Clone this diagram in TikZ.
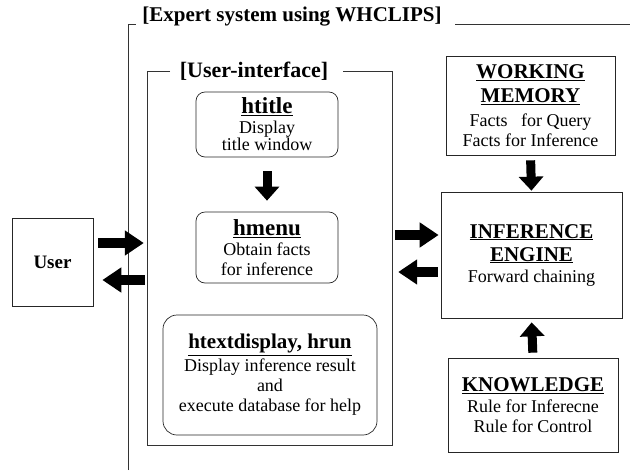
\documentclass[tikz,border=0pt]{standalone}
\usepackage{fontspec}
\setmainfont{Liberation Serif}
\usetikzlibrary{arrows.meta}
\newcommand{\hd}[1]{{\fontsize{21}{24}\selectfont\bfseries\underline{#1}}}
\newcommand{\hdb}[1]{{\fontsize{23}{26}\selectfont\bfseries\underline{#1}}}
\tikzset{
  box/.style={draw=black!85, line width=0.7pt, align=center, inner sep=0pt,
    font=\fontsize{18}{20}\selectfont},
  rbox/.style={box, rounded corners=9pt},
  ttl/.style={font=\fontsize{21}{24}\selectfont\bfseries, inner sep=0pt, anchor=base},
  frm/.style={draw=black!80, line width=0.7pt},
  blk/.style={line width=10pt, -{Triangle[length=19pt,width=24pt]}},
  vblk/.style={line width=9pt, -{Triangle[length=14pt,width=24pt]}}
}
\begin{document}
\begin{tikzpicture}[x=1pt,y=-1pt]
\useasboundingbox (0,0) rectangle (630,475);
% outer frame
\node[ttl] (extitle) at (292,21) {[Expert system using WHCLIPS]};
\draw[frm] (128,470) -- (128,24) -- (136,24);
\draw[frm] (455,24) -- (630,24);
% user-interface frame
\node[ttl, font=\fontsize{22}{24}\selectfont\bfseries] (uititle) at (254,77) {[User-interface]};
\draw[frm] (170,71) -- (147,71) -- (147,445) -- (392,445) -- (392,71) -- (343,71);
\node[inner sep=0pt, minimum width=245pt, minimum height=374pt] (ui) at (269.5,258) {};
% boxes
\node[box, minimum width=81pt, minimum height=88pt] (user) at (52.5,262)
  {{\fontsize{19}{22}\selectfont\bfseries User}};
\node[rbox, minimum width=142pt, minimum height=65pt] (htitle) at (267,124.5)
  {\hdb{htitle}\\[0pt]Display\\[-3pt]title window};
\node[rbox, minimum width=142pt, minimum height=71pt] (hmenu) at (267,247.5)
  {\hdb{hmenu}\\[0pt]Obtain facts\\for inference};
\node[rbox, rounded corners=14pt, minimum width=214pt, minimum height=120pt] (htext) at (270,375)
  {\hd{htextdisplay, hrun}\\[3pt]Display inference result\\and\\execute database for help};
\node[box, minimum width=169pt, minimum height=99pt] (wm) at (530.5,105.5)
  {\hd{WORKING}\\[4pt]\hd{MEMORY}\\[4pt]Facts\ \ \ for Query\\Facts for Inference};
\node[box, minimum width=181pt, minimum height=126pt] (ie) at (531.5,255)
  {\hd{INFERENCE}\\[3pt]\hd{ENGINE}\\[1pt]Forward chaining};
\node[box, minimum width=170pt, minimum height=94pt] (kn) at (533,405)
  {\hd{KNOWLEDGE}\\[1pt]Rule for Inferecne\\Rule for Control};
% arrows
\coordinate (yA) at (0,243);
\coordinate (yB) at (0,280);
\coordinate (yC) at (0,235);
\coordinate (yD) at (0,272);
\draw[blk, shorten <=5pt, shorten >=3pt] (user.east |- yA) -- (ui.west |- yA);
\draw[blk, shorten <=2pt, shorten >=9pt] (ui.west |- yB) -- (user.east |- yB);
\draw[blk, shorten <=3pt, shorten >=2pt] (ui.east |- yC) -- (ie.west |- yC);
\draw[blk, shorten <=3pt, shorten >=6pt] (ie.west |- yD) -- (ui.east |- yD);
\draw[vblk, shorten <=14pt, shorten >=11pt] (htitle.south) -- (hmenu.north);
\draw[vblk, shorten <=5pt, shorten >=1pt] (wm.south) -- (ie.north);
\draw[vblk, shorten <=5pt, shorten >=4pt] (kn.north) -- (ie.south);
\end{tikzpicture}
\end{document}
